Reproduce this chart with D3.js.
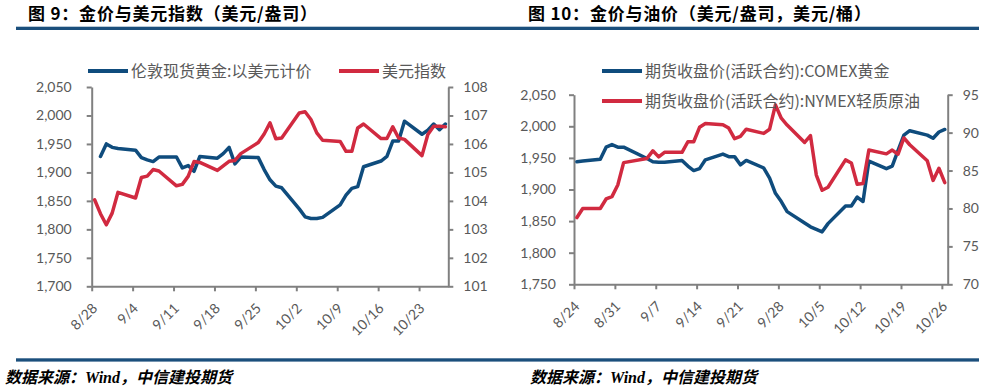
<!DOCTYPE html>
<html>
<head>
<meta charset="utf-8">
<script src="https://cdn.jsdelivr.net/npm/d3@7"></script>
<style>
body { margin: 0; background: #fff; }
svg text { font-family: Lato, "Noto Sans CJK SC", sans-serif; fill: #595959; }
</style>
</head>
<body>
<svg id="chart" width="990" height="389"></svg>
<script>
// ---- chart 9: London gold vs dollar index (trading days 2023)
var dates1 = ["8/28","8/29","8/30","8/31","9/1",
              "9/4","9/5","9/6","9/7","9/8",
              "9/11","9/12","9/13","9/14","9/15",
              "9/18","9/19","9/20","9/21","9/22",
              "9/25","9/26","9/27","9/28","9/29",
              "10/2","10/3","10/4","10/5","10/6",
              "10/9","10/10","10/11","10/12","10/13",
              "10/16","10/17","10/18","10/19","10/20",
              "10/23","10/24","10/25","10/26","10/27"];
var goldLondon = [null, 1928, 1950, 1944, 1942,
                  1939, 1926, 1922, 1919, 1927,
                  1927, 1908, 1912, 1902, 1928,
                  1925, 1933, 1944, 1915, 1927,
                  1926, 1905, 1887, 1876, 1873,
                  1836, 1822, 1819, 1819, 1821,
                  1843, 1860, 1872, 1875, 1910,
                  1920, 1928, 1955, 1955, 1990,
                  1967, 1974, 1985, 1975, 1985];
var dollarIndex = [104.04, 103.55, 103.16, 103.57, 104.30,
                   104.10, 104.82, 104.87, 105.10, 105.05,
                   104.53, 104.58, 104.86, 105.38, 105.35,
                   105.07, 105.23, 105.39, 105.42, 105.66,
                   106.05, 106.35, 106.74, 106.18, 106.21,
                   107.09, 107.13, 106.86, 106.39, 106.13,
                   106.09, 105.74, 105.74, 106.56, 106.70,
                   106.19, 106.19, 106.60, 106.21, 106.16,
                   105.59, 106.33, 106.62, 106.62, 106.60];
var ticks1 = ["8/28","9/4","9/11","9/18","9/25","10/2","10/9","10/16","10/23"];
var leftTicks1 = [1700, 1750, 1800, 1850, 1900, 1950, 2000, 2050];
var rightTicks1 = [101, 102, 103, 104, 105, 106, 107, 108];

// ---- chart 10: COMEX gold vs NYMEX crude
var dates2 = ["8/24","8/25","8/28","8/29","8/30","8/31","9/1",
              "9/5","9/6","9/7","9/8",
              "9/11","9/12","9/13","9/14","9/15",
              "9/18","9/19","9/20","9/21","9/22",
              "9/25","9/26","9/27","9/28","9/29",
              "10/2","10/3","10/4","10/5","10/6",
              "10/9","10/10","10/11","10/12","10/13",
              "10/16","10/17","10/18","10/19","10/20",
              "10/23","10/24","10/25","10/26"];
var goldComex = [1944, 1945, 1948, 1967, 1971, 1967, 1967,
                 1949, 1944, 1943, 1943,
                 1946, 1937, 1930, 1933, 1947,
                 1956, 1952, 1952, 1939, 1946,
                 1934, 1918, 1894, 1881, 1865,
                 1847, 1841, 1837, 1833, 1846,
                 1874, 1874, 1888, 1881, 1945,
                 1933, 1937, 1962, 1986, 1993,
                 1986, 1981, 1991, 1995];
var oilNymex = [78.8, 80.0, 80.0, 81.25, 81.56, 83.1, 86.04,
                86.6, 87.6, 86.8, 87.4,
                87.4, 88.8, 88.8, 90.7, 91.2,
                91.05, 90.6, 89.2, 89.5, 90.45,
                89.9, 90.45, 93.65, 91.9, 91.0,
                88.7, 89.6, 84.4, 82.4, 82.8,
                86.4, 86.0, 83.2, 83.3, 87.7,
                87.2, 87.7, 87.15, 89.3, 88.4,
                86.3, 83.7, 85.3, 83.4];
var ticks2 = ["8/24","8/31","9/7","9/14","9/21","9/28","10/5","10/12","10/19","10/26"];
var leftTicks2 = [1750, 1800, 1850, 1900, 1950, 2000, 2050];
var rightTicks2 = [70, 75, 80, 85, 90, 95];

var blue = "#0f4c7d";
var red = "#d12a40";
var axisGrey = "#808080";
var ruleBlue = "#1b4f7c";

var parseDay = d3.utcParse("%Y/%m/%d");
function toDate(s) { return parseDay("2023/" + s); }

var svg = d3.select("#chart");

function makeChart(o) {
    var g = svg.append("g").attr("id", o.id);

    var x = d3.scaleUtc()
            .domain([toDate(o.start), toDate(o.end)])
            .range([o.left, o.right]);
    var yL = d3.scaleLinear().domain(o.leftDomain).range([o.bottom, o.top]);
    var yR = d3.scaleLinear().domain(o.rightDomain).range([o.bottom, o.top]);

    // header / footer
    g.append("text")
            .attr("x", o.titleX).attr("y", 20)
            .attr("font-size", 17).attr("font-weight", 700)
            .attr("letter-spacing", 0.8)
            .style("font-family", "'Noto Sans CJK SC'")
            .style("fill", "#000")
            .text(o.title);
    g.append("rect")
            .attr("x", o.ruleX1).attr("y", 26.7)
            .attr("width", o.ruleX2 - o.ruleX1).attr("height", 3.3)
            .attr("fill", ruleBlue);
    g.append("rect")
            .attr("x", o.ruleX1).attr("y", 358.3)
            .attr("width", o.ruleX2 - o.ruleX1).attr("height", 3.3)
            .attr("fill", ruleBlue);
    g.append("text")
            .attr("x", o.footX).attr("y", 383)
            .attr("font-size", 16).attr("font-weight", 700)
            .attr("font-style", "italic")
            .style("font-family", "'Liberation Serif', 'Noto Sans CJK SC'")
            .style("fill", "#000")
            .text("数据来源：Wind，中信建投期货");

    // axes
    var axL = g.append("g")
            .attr("transform", "translate(" + o.left + ",0)")
            .call(d3.axisLeft(yL).tickValues(o.leftTicks).tickFormat(d3.format(","))
                    .tickSize(5).tickSizeOuter(0).tickPadding(o.padL));
    var axR = g.append("g")
            .attr("transform", "translate(" + o.right + ",0)")
            .call(d3.axisRight(yR).tickValues(o.rightTicks).tickFormat(function (d) { return d; })
                    .tickSize(5).tickSizeOuter(0).tickPadding(o.padR));
    var axB = g.append("g")
            .attr("transform", "translate(0," + o.bottom + ")")
            .call(d3.axisBottom(x).tickValues(o.ticks.map(toDate))
                    .tickFormat(function (d, i) { return o.ticks[i]; })
                    .tickSize(5).tickSizeOuter(0));
    axB.selectAll("text")
            .attr("x", 0).attr("y", 0).attr("dy", 0)
            .attr("text-anchor", "end")
            .attr("transform", "translate(6,23) rotate(-45)");

    [axL, axR, axB].forEach(function (ax) {
        ax.selectAll("path, line").attr("stroke", axisGrey).attr("stroke-width", 2);
        ax.selectAll("text").attr("font-size", 14).style("fill", "#595959");
    });

    // series
    function pts(vals) {
        return o.dates.map(function (s, i) { return {d: toDate(s), v: vals[i]}; });
    }
    function lineFor(y) {
        return d3.line()
                .defined(function (p) { return p.v != null; })
                .x(function (p) { return x(d3.utcHour.offset(p.d, 12)); })
                .y(function (p) { return y(p.v); });
    }
    g.append("path").datum(pts(o.leftSeries))
            .attr("d", lineFor(yL))
            .attr("fill", "none").attr("stroke", blue).attr("stroke-width", 3.5)
            .attr("stroke-linejoin", "round").attr("stroke-linecap", "round");
    g.append("path").datum(pts(o.rightSeries))
            .attr("d", lineFor(yR))
            .attr("fill", "none").attr("stroke", red).attr("stroke-width", 3.5)
            .attr("stroke-linejoin", "round").attr("stroke-linecap", "round");

    // legend
    o.legend.forEach(function (l) {
        g.append("line")
                .attr("x1", l.x).attr("x2", l.x + 40)
                .attr("y1", l.y).attr("y2", l.y)
                .attr("stroke", l.color).attr("stroke-width", 4);
        g.append("text")
                .attr("x", l.x + 43).attr("y", l.y - 1)
                .attr("dominant-baseline", "central")
                .attr("font-size", 16)
                .style("font-family", "'Noto Sans CJK SC'")
                .text(l.label);
    });
}

makeChart({
    id: "fig9", title: "图 9：金价与美元指数（美元/盎司）",
    titleX: 28, ruleX1: 16, ruleX2: 495, footX: 5,
    dates: dates1, leftSeries: goldLondon, rightSeries: dollarIndex,
    start: "8/28", end: "10/28", ticks: ticks1,
    left: 91.7, right: 448.3, top: 87, bottom: 286.3,
    leftDomain: [1700, 2050], rightDomain: [101, 108],
    leftTicks: leftTicks1, rightTicks: rightTicks1, padL: 15, padR: 10,
    legend: [
        {x: 88, y: 71, color: blue, label: "伦敦现货黄金:以美元计价"},
        {x: 339, y: 71, color: red, label: "美元指数"}
    ]
});

makeChart({
    id: "fig10", title: "图 10：金价与油价（美元/盎司，美元/桶）",
    titleX: 528, ruleX1: 495, ruleX2: 979, footX: 530,
    dates: dates2, leftSeries: goldComex, rightSeries: oilNymex,
    start: "8/24", end: "10/27", ticks: ticks2,
    left: 574, right: 947.7, top: 94.7, bottom: 284.3,
    leftDomain: [1750, 2050], rightDomain: [70, 95],
    leftTicks: leftTicks2, rightTicks: rightTicks2, padL: 13, padR: 10,
    legend: [
        {x: 602, y: 71, color: blue, label: "期货收盘价(活跃合约):COMEX黄金"},
        {x: 602, y: 101, color: red, label: "期货收盘价(活跃合约):NYMEX轻质原油"}
    ]
});
</script>
</body>
</html>
